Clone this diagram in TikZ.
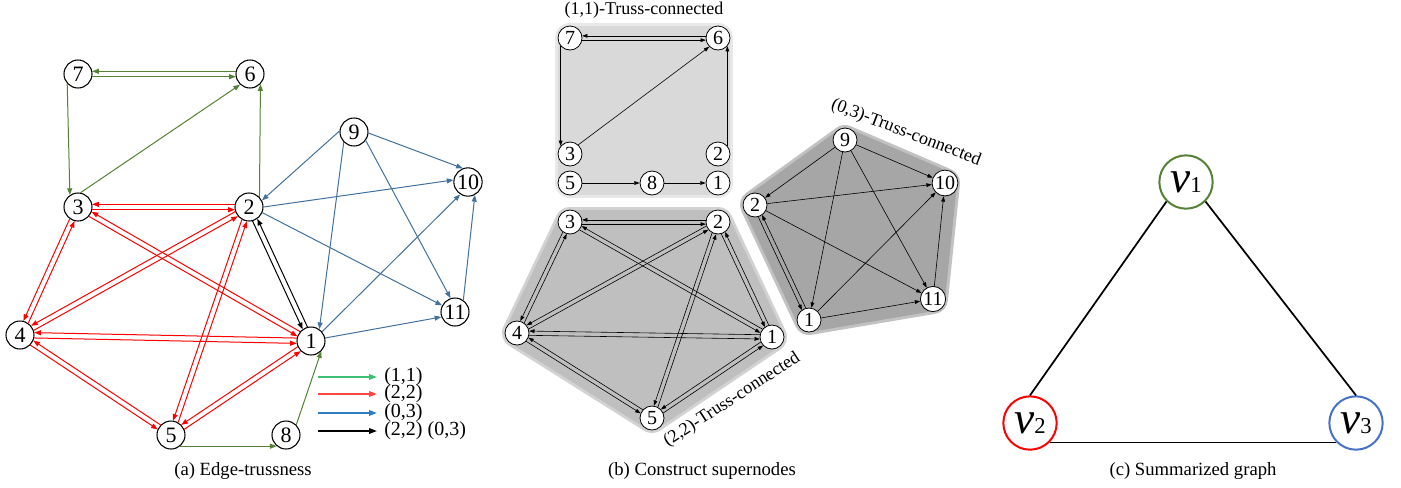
\documentclass[tikz,border=0pt]{standalone}
\usepackage{fontspec}
\setmainfont{Liberation Serif}
\usetikzlibrary{arrows.meta,calc,backgrounds}
\definecolor{ga}{HTML}{548235}
\definecolor{ra}{HTML}{FF0000}
\definecolor{ba}{HTML}{41719C}
\definecolor{lgg}{HTML}{3DBE74}
\definecolor{lgr}{HTML}{FF4545}
\definecolor{lgb}{HTML}{2E7CC2}
\definecolor{vb}{HTML}{4472C4}
\definecolor{fillA}{HTML}{D9D9D9}
\definecolor{haloA}{HTML}{E8E8E8}
\definecolor{fillB}{HTML}{BFBFBF}
\definecolor{haloB}{HTML}{D2D2D2}
\definecolor{fillC}{HTML}{A6A6A6}
\definecolor{haloC}{HTML}{C2C2C2}
\tikzset{
  na/.style={circle,draw,line width=0.8pt,fill=white,minimum size=21pt,inner sep=0.5pt,font=\fontsize{16.5}{16.5}\selectfont},
  nb/.style={circle,draw,line width=0.6pt,fill=white,minimum size=18pt,inner sep=0.5pt,font=\fontsize{15}{15}\selectfont},
  vc/.style={circle,line width=1.5pt,fill=white,minimum size=40pt,inner sep=0pt},
  ea/.style={line width=0.75pt,-{Triangle[length=5pt,width=3.7pt]}},
  eb/.style={line width=0.45pt,-{Triangle[length=4pt,width=2.8pt]}},
  lg/.style={line width=1.2pt,-{Triangle[length=6pt,width=4.2pt]}},
  captxt/.style={font=\fontsize{14}{14}\selectfont},
  ttl/.style={font=\fontsize{13.5}{13.5}\selectfont},
}
\newcommand\dblA[3]{%
  \draw[ea,#1,shorten <=10.6pt,shorten >=10.6pt] ($(#2)!2pt!-90:(#3)$) -- ($(#3)!2pt!90:(#2)$);
  \draw[ea,#1,shorten <=10.6pt,shorten >=10.6pt] ($(#3)!2pt!-90:(#2)$) -- ($(#2)!2pt!90:(#3)$);}
\newcommand\dblB[2]{%
  \draw[eb,shorten <=9.1pt,shorten >=9.1pt] ($(#1)!1.6pt!-90:(#2)$) -- ($(#2)!1.6pt!90:(#1)$);
  \draw[eb,shorten <=9.1pt,shorten >=9.1pt] ($(#2)!1.6pt!-90:(#1)$) -- ($(#1)!1.6pt!90:(#2)$);}
\begin{document}
\begin{tikzpicture}[x=0.75pt,y=-0.75pt]
\useasboundingbox (0,0) rectangle (1401,487);
% ---------------- panel (a)
\node[na] (a7) at (78,74) {7};
\node[na] (a6) at (250,74) {6};
\node[na] (a3) at (78,207) {3};
\node[na] (a2) at (249,207) {2};
\node[na] (a9) at (354,132) {9};
\node[na] (a10) at (468,182) {10};
\node[na] (a11) at (455,312) {11};
\node[na] (a4) at (20,335) {4};
\node[na] (a1) at (311,341) {1};
\node[na] (a5) at (171,435) {5};
\node[na] (a8) at (286,435) {8};
% green
\dblA{ga}{a7}{a6}
\draw[ea,ga] (a7.222) -- (a3.124);
\draw[ea,ga] (a3.80) -- (a6.227);
\draw[ea,ga] (a2.44) -- (a6.-44);
\draw[ea,ga] (a5.-50) -- (a8.230);
\draw[ea,ga] (a8.45) -- (a1.-45);
% red
\dblA{ra}{a3}{a2}
\dblA{ra}{a3}{a4}
\dblA{ra}{a3}{a1}
\dblA{ra}{a2}{a4}
\dblA{ra}{a2}{a5}
\dblA{ra}{a4}{a1}
\dblA{ra}{a4}{a5}
\dblA{ra}{a5}{a1}
% black
\dblA{black}{a2}{a1}
% blue
\draw[ea,ba] (a9.176) -- (a2.27);
\draw[ea,ba] (a9.225) -- (a1.55);
\draw[ea,ba] (a9.-4) -- (a10.111);
\draw[ea,ba] (a9.-36) -- (a11.108);
\draw[ea,ba] (a2.0) -- (a10.172);
\draw[ea,ba] (a2.-23) -- (a11.153);
\draw[ea,ba] (a1.40) -- (a10.238);
\draw[ea,ba] (a1.12) -- (a11.200);
\draw[ea,ba] (a11.55) -- (a10.-62);
% legend
\coordinate (l1a) at (318,377); \coordinate (l1b) at (377,377);
\coordinate (l2a) at (318,394); \coordinate (l2b) at (377,394);
\coordinate (l3a) at (318,413); \coordinate (l3b) at (377,413);
\coordinate (l4a) at (318,431); \coordinate (l4b) at (377,431);
\draw[lg,lgg] (l1a) -- (l1b);
\draw[lg,lgr] (l2a) -- (l2b);
\draw[lg,lgb] (l3a) -- (l3b);
\draw[lg,black] (l4a) -- (l4b);
\begin{scope}[font=\fontsize{15}{15}\selectfont]
\node[anchor=west,inner sep=0pt] (t1) at (384,377) {(1,1)};
\node[anchor=west,inner sep=0pt] (t2) at (384,394) {(2,2)};
\node[anchor=west,inner sep=0pt] (t3) at (384,413) {(0,3)};
\node[anchor=west,inner sep=0pt] (t4) at (384,431) {(2,2) (0,3)};
\end{scope}
\node[captxt] (capa) at (243,471) {(a) Edge-trussness};
% ---------------- panel (b)
\node[ttl] (ttl1) at (644,10) {(1,1)-Truss-connected};
\node[nb] (b7) at (570,38) {7};
\node[nb] (b6) at (718,38) {6};
\node[nb] (b3) at (570,154) {3};
\node[nb] (b2) at (718,154) {2};
\node[nb] (b5) at (570,183) {5};
\node[nb] (b8) at (652,183) {8};
\node[nb] (b1) at (718,183) {1};
\node[nb] (c3) at (570,222) {3};
\node[nb] (c2) at (718,222) {2};
\node[nb] (c4) at (517,333) {4};
\node[nb] (c1) at (772,337) {1};
\node[nb] (c5) at (652,418) {5};
\node[nb] (d9) at (845,140) {9};
\node[nb] (d10) at (945,183) {10};
\node[nb] (d2) at (755,205) {2};
\node[nb] (d11) at (933,299) {11};
\node[nb] (d1) at (809,320) {1};
\begin{scope}[on background layer]
\draw[line width=22.5pt,line join=round,draw=haloA,fill=haloA] (b7.center) -- (b6.center) -- (b1.center) -- (b5.center) -- cycle;
\draw[line width=18pt,line join=round,draw=fillA,fill=fillA] (b7.center) -- (b6.center) -- (b1.center) -- (b5.center) -- cycle;
\draw[line width=22.5pt,line join=round,draw=haloB,fill=haloB] (c3.center) -- (c2.center) -- (c1.center) -- (c5.center) -- (c4.center) -- cycle;
\draw[line width=18pt,line join=round,draw=fillB,fill=fillB] (c3.center) -- (c2.center) -- (c1.center) -- (c5.center) -- (c4.center) -- cycle;
\draw[line width=22.5pt,line join=round,draw=haloC,fill=haloC] (d9.center) -- (d10.center) -- (d11.center) -- (d1.center) -- (d2.center) -- cycle;
\draw[line width=18pt,line join=round,draw=fillC,fill=fillC] (d9.center) -- (d10.center) -- (d11.center) -- (d1.center) -- (d2.center) -- cycle;
\end{scope}
% (1,1) edges
\dblB{b7}{b6}
\draw[eb] (b7.221) -- (b3.139);
\draw[eb] (b3.48) -- (b6.225);
\draw[eb] (b2.41) -- (b6.-41);
\draw[eb] (b5) -- (b8);
\draw[eb] (b8) -- (b1);
% (2,2) edges
\dblB{c3}{c2}
\dblB{c3}{c4}
\dblB{c3}{c1}
\dblB{c2}{c4}
\dblB{c2}{c5}
\dblB{c2}{c1}
\dblB{c4}{c1}
\dblB{c4}{c5}
\dblB{c5}{c1}
% (0,3) edges
\draw[eb] (d9) -- (d2);
\draw[eb] (d9) -- (d10);
\draw[eb] (d9) -- (d1);
\draw[eb] (d9) -- (d11);
\draw[eb] (d2) -- (d10);
\draw[eb] (d2) -- (d11);
\dblB{d2}{d1}
\draw[eb] (d1) -- (d10);
\draw[eb] (d1) -- (d11);
\draw[eb] (d11) -- (d10);
\node[ttl,rotate=-21] (ttl3) at (906,133) {(0,3)-Truss-connected};
\node[ttl,rotate=33] (ttl2) at (732,400) {(2,2)-Truss-connected};
\node[captxt] (capb) at (702,471) {(b) Construct supernodes};
% ---------------- panel (c)
\node[vc,draw=ga] (v1) at (1186,182) {\fontsize{34}{34}\selectfont\textit{v}\fontsize{17}{17}\selectfont 1};
\node[vc,draw=ra] (v2) at (1030,423) {\fontsize{34}{34}\selectfont\textit{v}\fontsize{17}{17}\selectfont 2};
\node[vc,draw=vb] (v3) at (1356,423) {\fontsize{34}{34}\selectfont\textit{v}\fontsize{17}{17}\selectfont 3};
\draw[line width=1.3pt] (v1.south west) -- (v2.north);
\draw[line width=1.3pt] (v1.south east) -- (v3.north);
\draw[line width=1.3pt] (v2.south east) -- (v3.south west);
\node[captxt] (capc) at (1193,471) {(c) Summarized graph};
\end{tikzpicture}
\end{document}
